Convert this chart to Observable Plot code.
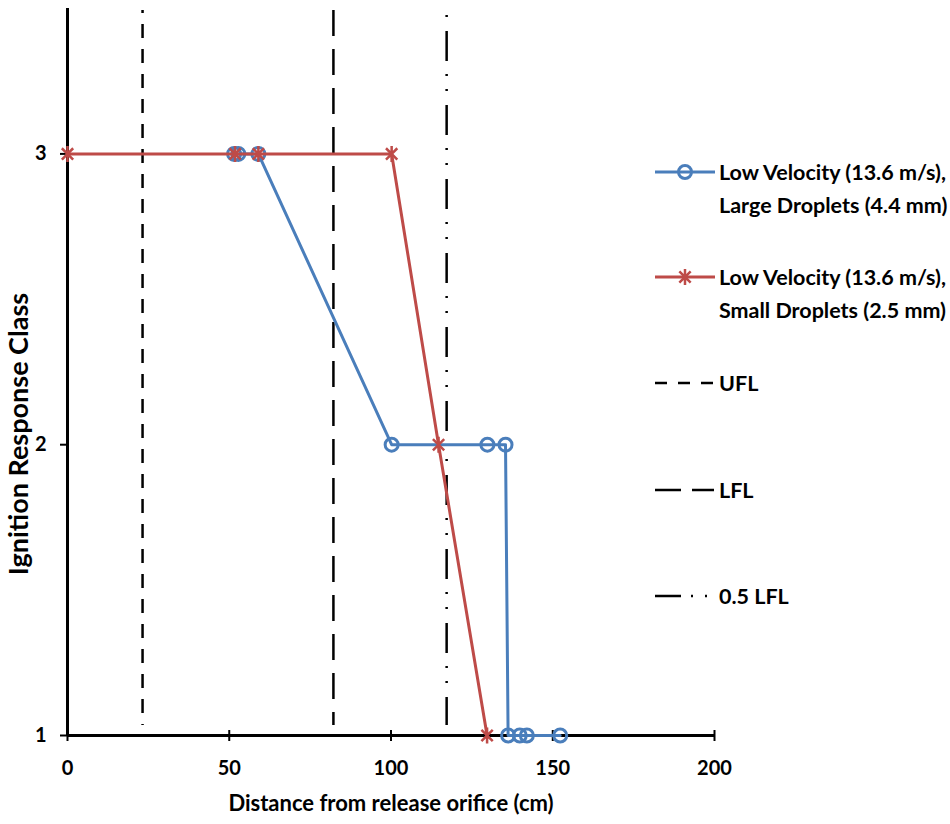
<!DOCTYPE html>
<html>
<head>
<meta charset="utf-8">
<script src="https://cdn.jsdelivr.net/npm/d3@7"></script>
<script src="https://cdn.jsdelivr.net/npm/@observablehq/plot@0.6"></script>
<style>
  html, body { margin: 0; padding: 0; background: #fff; }
  #wrap { position: relative; width: 950px; height: 824px; font-family: Lato, "DejaVu Sans", sans-serif; }
  #legend { position: absolute; left: 0; top: 0; pointer-events: none; }
</style>
</head>
<body>
<div id="wrap"></div>
<script>
// ---- data ----
const largeX = [51.5, 52.8, 59, 100.2, 129.8, 135.4, 136.2, 139.8, 142, 152.3];
const largeY = [3, 3, 3, 2, 2, 2, 1, 1, 1, 1];
const smallX = [0, 51.8, 59, 100.2, 114.7, 129.7];
const smallY = [3, 3, 3, 3, 2, 1];
const limitNames = ["UFL", "LFL", "0.5 LFL"];
const limitX = [23.2, 82.2, 117.2];
const xTicks = [0, 50, 100, 150, 200];
const yTicks = [1, 2, 3];
const seriesNames = [
  ["Low Velocity (13.6 m/s),", "Large Droplets (4.4 mm)"],
  ["Low Velocity (13.6 m/s),", "Small Droplets (2.5 mm)"]
];

const BLUE = "#4A7EBB";
const RED = "#BE4B48";
const FONT = "Lato, 'DejaVu Sans', sans-serif";

const large = largeX.map((x, i) => ({x, y: largeY[i]}));
const small = smallX.map((x, i) => ({x, y: smallY[i]}));

// Excel-like star marker: X plus vertical bar
const star = {
  draw(context, size) {
    const r = Math.sqrt(size / Math.PI);
    const d = r * Math.SQRT1_2;
    context.moveTo(-d, -d); context.lineTo(d, d);
    context.moveTo(d, -d); context.lineTo(-d, d);
    context.moveTo(0, -r); context.lineTo(0, r);
  }
};

const dashes = ["14,11", "26,13", "30,13,2,13,2,14"];
const dashOffsets = [11, 0, 53];

const chart = Plot.plot({
  width: 950,
  height: 824,
  marginLeft: 67,
  marginRight: 236,
  marginTop: 8,
  marginBottom: 89,
  style: {fontFamily: FONT, background: "white", overflow: "visible"},
  x: {domain: [0, 200], axis: null},
  y: {domain: [1, 3.5], axis: null},
  marks: [
    // reference lines
    ...limitX.map((lx, i) => Plot.ruleX([lx], {
      stroke: "black", strokeWidth: 2.5, strokeDasharray: dashes[i],
      strokeDashoffset: dashOffsets[i], insetTop: 2, insetBottom: 10
    })),
    // axes lines
    Plot.ruleX([0], {stroke: "black", strokeWidth: 3}),
    Plot.ruleY([1], {stroke: "black", strokeWidth: 3}),
    // y axis
    Plot.axisY(yTicks, {
      label: null, tickFormat: "d",
      tickSize: 7, tickPadding: 14, strokeWidth: 2, fontSize: 20, fontWeight: "bold", fill: "black"
    }),
    // x axis ticks crossing + labels
    Plot.ruleX(xTicks, {x: d => d, y1: 1, y2: 1, insetTop: 6, insetBottom: 5, stroke: "black", strokeWidth: 2}),
    Plot.axisX(xTicks, {
      label: null, tickFormat: "d",
      tickSize: 0, tickPadding: 25, fontSize: 20, fontWeight: "bold", fill: "black"
    }),
    // axis titles
    Plot.text(["Distance from release orifice (cm)"], {
      frameAnchor: "bottom", dy: 75, fontSize: 22, fontWeight: "bold", fill: "black"
    }),
    Plot.text(["Ignition Response Class"], {
      frameAnchor: "left", textAnchor: "middle", rotate: -90, dx: -48, dy: 62,
      fontSize: 27, fontWeight: "bold", fill: "black"
    }),
    // series: large droplets
    Plot.line(large, {x: "x", y: "y", stroke: BLUE, strokeWidth: 3}),
    Plot.dot(large, {x: "x", y: "y", r: 6.5, stroke: BLUE, strokeWidth: 3, fill: "none"}),
    // series: small droplets
    Plot.line(small, {x: "x", y: "y", stroke: RED, strokeWidth: 3}),
    Plot.dot(small, {x: "x", y: "y", symbol: star, r: 8, stroke: RED, strokeWidth: 2.5, fill: "none"})
  ]
});

const wrap = document.getElementById("wrap");
wrap.appendChild(chart);

// ---- legend overlay ----
const leg = d3.select(wrap).append("svg")
  .attr("id", "legend").attr("width", 950).attr("height", 824);

const items = [
  {type: "series", color: BLUE, marker: "circle", y: 172, lines: seriesNames[0]},
  {type: "series", color: RED, marker: "star", y: 277, lines: seriesNames[1]},
  {type: "limit", dash: "12,11", y: 383, lines: [limitNames[0]]},
  {type: "limit", dash: "26,11", y: 490, lines: [limitNames[1]]},
  {type: "limit", dash: "26,10,2,12,2,12", y: 596, lines: [limitNames[2]]}
];

const sx0 = 655, sx1 = 715, tx = 719;
items.forEach(it => {
  const g = leg.append("g");
  if (it.type === "series") {
    g.append("line").attr("x1", sx0).attr("x2", sx1).attr("y1", it.y).attr("y2", it.y)
      .attr("stroke", it.color).attr("stroke-width", 3);
    const cx = (sx0 + sx1) / 2;
    if (it.marker === "circle") {
      g.append("circle").attr("cx", cx).attr("cy", it.y).attr("r", 6.5)
        .attr("fill", "none").attr("stroke", it.color).attr("stroke-width", 3);
    } else {
      const r = 8, d = r * Math.SQRT1_2;
      g.append("path").attr("d", `M${cx-d},${it.y-d}L${cx+d},${it.y+d}M${cx+d},${it.y-d}L${cx-d},${it.y+d}M${cx},${it.y-r}L${cx},${it.y+r}`)
        .attr("fill", "none").attr("stroke", it.color).attr("stroke-width", 2.5);
    }
  } else {
    g.append("line").attr("x1", sx0).attr("x2", sx1 - 1).attr("y1", it.y).attr("y2", it.y)
      .attr("stroke", "black").attr("stroke-width", 2.5).attr("stroke-dasharray", it.dash);
  }
  it.lines.forEach((t, k) => {
    g.append("text").attr("x", tx).attr("y", it.y + k * 33)
      .attr("dy", "0.35em")
      .attr("font-family", FONT).attr("font-size", 21.5).attr("font-weight", "bold")
      .attr("fill", "black").text(t);
  });
});
</script>
</body>
</html>
